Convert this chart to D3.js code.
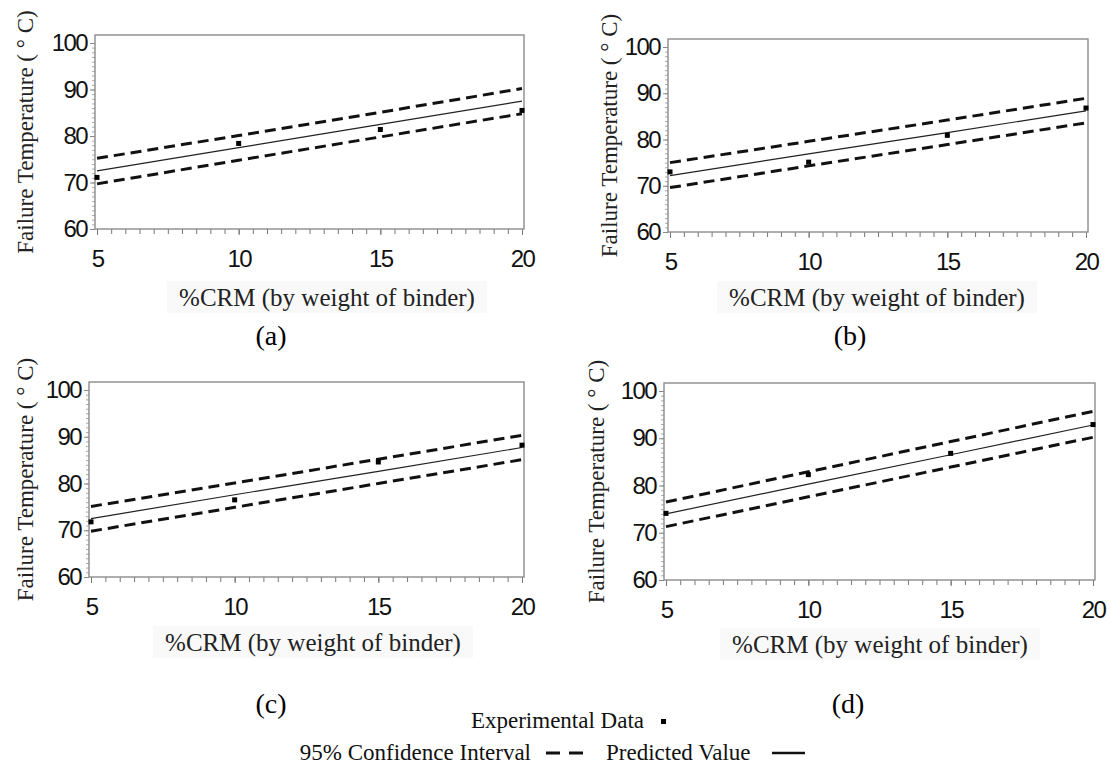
<!DOCTYPE html>
<html>
<head>
<meta charset="utf-8">
<script src="https://cdn.jsdelivr.net/npm/d3@7"></script>
<style>
  body { margin: 0; background: #fff; }
  .serif { font-family: 'Liberation Serif', 'Times New Roman', Times, serif; }
  .tick text { font-family: 'Liberation Sans', Arial, Helvetica, sans-serif; }
</style>
</head>
<body>
<svg id="chart" width="1111" height="769"></svg>
<script>
// %CRM levels
const crm = [5, 10, 15, 20];
const xTicks = [5, 10, 15, 20];
const yTicks = [60, 70, 80, 90, 100];

// panel (a)
const predA = [72.5, 77.5, 82.5, 87.5];
const upA   = [75.2, 80.1, 85.1, 90.2];
const loA   = [69.7, 74.8, 79.8, 84.8];
const expA  = [71.1, 78.4, 81.4, 85.5];
// panel (b)
const predB = [72.2, 76.9, 81.5, 86.2];
const upB   = [75.0, 79.6, 84.2, 88.9];
const loB   = [69.6, 74.3, 78.9, 83.6];
const expB  = [73.0, 75.1, 80.9, 86.8];
// panel (c)
const predC = [72.5, 77.6, 82.6, 87.7];
const upC   = [75.1, 80.1, 85.2, 90.3];
const loC   = [69.8, 74.9, 80.0, 85.1];
const expC  = [71.8, 76.5, 84.6, 88.2];
// panel (d)
const predD = [74.0, 80.3, 86.5, 92.8];
const upD   = [76.5, 82.9, 89.3, 95.7];
const loD   = [71.3, 77.6, 83.9, 90.2];
const expD  = [74.1, 82.3, 86.8, 92.9];

const panelNames = ['(a)', '(b)', '(c)', '(d)'];
const xTitle = '%CRM (by weight of binder)';
const yTitle = 'Failure Temperature ( \u00B0 C)';

// layout of each panel box (pixels)
const layout = [
  { l: 95,  t: 35,  r: 524,  b: 229, yt: 25,  xtx: 327, xty: 297, nx: 271, ny: 335 },
  { l: 668, t: 39,  r: 1088, b: 232, yt: 609, xtx: 877, xty: 297, nx: 850, ny: 335 },
  { l: 89,  t: 382, r: 524,  b: 577, yt: 25,  xtx: 313, xty: 642, nx: 271, ny: 703 },
  { l: 664, t: 383, r: 1095, b: 580, yt: 596, xtx: 880, xty: 644, nx: 848, ny: 703 }
];
const series = [
  { pred: predA, up: upA, lo: loA, exp: expA },
  { pred: predB, up: upB, lo: loB, exp: expB },
  { pred: predC, up: upC, lo: loC, exp: expC },
  { pred: predD, up: upD, lo: loD, exp: expD }
];

const svg = d3.select('#chart');

layout.forEach((L, i) => {
  const s = series[i];
  const g = svg.append('g');
  const x = d3.scaleLinear().domain([5, 20]).range([L.l + 2, L.r - 2]);
  const y = d3.scaleLinear().domain([60, 100]).range([L.b, L.t + 8]);

  // minor ticks
  g.append('g')
    .attr('transform', `translate(0,${L.b})`)
    .call(d3.axisBottom(x).tickValues(d3.range(5, 20.01, 0.5)).tickSize(5).tickFormat(''))
    .call(a => a.select('.domain').remove())
    .call(a => a.selectAll('line').attr('stroke', '#777'));
  g.append('g')
    .attr('transform', `translate(${L.l},0)`)
    .call(d3.axisLeft(y).tickValues(d3.range(60, 101, 1)).tickSize(3).tickFormat(''))
    .call(a => a.select('.domain').remove())
    .call(a => a.selectAll('line').attr('stroke', '#aaa'));

  // major tick labels
  g.append('g')
    .attr('transform', `translate(0,${L.b})`)
    .call(d3.axisBottom(x).tickValues(xTicks).tickSize(6).tickPadding(15))
    .call(a => a.select('.domain').remove())
    .call(a => a.selectAll('line').attr('stroke', '#777'))
    .call(a => a.selectAll('text').style('font-size', '24px')
      .style('letter-spacing', '-1.6px').attr('fill', '#111'));
  g.append('g')
    .attr('transform', `translate(${L.l},0)`)
    .call(d3.axisLeft(y).tickValues(yTicks).tickSize(5).tickPadding(3))
    .call(a => a.select('.domain').remove())
    .call(a => a.selectAll('line').attr('stroke', '#888'))
    .call(a => a.selectAll('text').style('font-size', '24px')
      .style('letter-spacing', '-1.6px').attr('fill', '#111'));

  // frame
  g.append('rect')
    .attr('x', L.l).attr('y', L.t)
    .attr('width', L.r - L.l).attr('height', L.b - L.t)
    .attr('fill', 'none').attr('stroke', '#8c8c8c').attr('stroke-width', 1.4);

  const line = d3.line().x((d, k) => x(crm[k])).y(d => y(d));
  [s.up, s.lo].forEach(v => {
    g.append('path').datum(v).attr('d', line)
      .attr('fill', 'none').attr('stroke', '#111')
      .attr('stroke-width', 3).attr('stroke-dasharray', '11,6');
  });
  g.append('path').datum(s.pred).attr('d', line)
    .attr('fill', 'none').attr('stroke', '#222').attr('stroke-width', 1.2);

  g.selectAll('rect.pt').data(s.exp).join('rect')
    .attr('class', 'pt')
    .attr('x', (d, k) => x(crm[k]) - 2.5).attr('y', d => y(d) - 2.5)
    .attr('width', 5).attr('height', 5).attr('fill', '#000');

  // titles
  g.append('rect')
    .attr('x', L.xtx - 160).attr('y', L.xty - 16)
    .attr('width', 320).attr('height', 32).attr('fill', '#f9f9f9');
  g.append('text').attr('class', 'serif')
    .attr('x', L.xtx).attr('y', L.xty).attr('dy', '0.35em')
    .attr('text-anchor', 'middle').style('font-size', '25px')
    .attr('fill', '#222').text(xTitle);
  g.append('text').attr('class', 'serif')
    .attr('transform', `translate(${L.yt},${(L.t + L.b) / 2}) rotate(-90)`)
    .attr('dy', '0.35em')
    .attr('text-anchor', 'middle').style('font-size', '23px')
    .attr('fill', '#222').text(yTitle);
  g.append('text').attr('class', 'serif')
    .attr('x', L.nx).attr('y', L.ny).attr('dy', '0.35em')
    .attr('text-anchor', 'middle').style('font-size', '28px')
    .attr('fill', '#000').text(panelNames[i]);
});

// legend
const leg = svg.append('g').attr('class', 'serif').style('font-size', '23px').attr('fill', '#111');
leg.append('text').attr('x', 644).attr('y', 720).attr('dy', '0.35em')
  .attr('text-anchor', 'end').text('Experimental Data');
leg.append('rect').attr('x', 661).attr('y', 719).attr('width', 5).attr('height', 5).attr('fill', '#000');
leg.append('text').attr('x', 531).attr('y', 752).attr('dy', '0.35em')
  .attr('text-anchor', 'end').text('95% Confidence Interval');
leg.append('line').attr('x1', 546).attr('x2', 585).attr('y1', 753).attr('y2', 753)
  .attr('stroke', '#111').attr('stroke-width', 3).attr('stroke-dasharray', '14,9');
leg.append('text').attr('x', 606).attr('y', 752).attr('dy', '0.35em')
  .text('Predicted Value');
leg.append('line').attr('x1', 772).attr('x2', 805).attr('y1', 753).attr('y2', 753)
  .attr('stroke', '#111').attr('stroke-width', 2.5);
</script>
</body>
</html>
